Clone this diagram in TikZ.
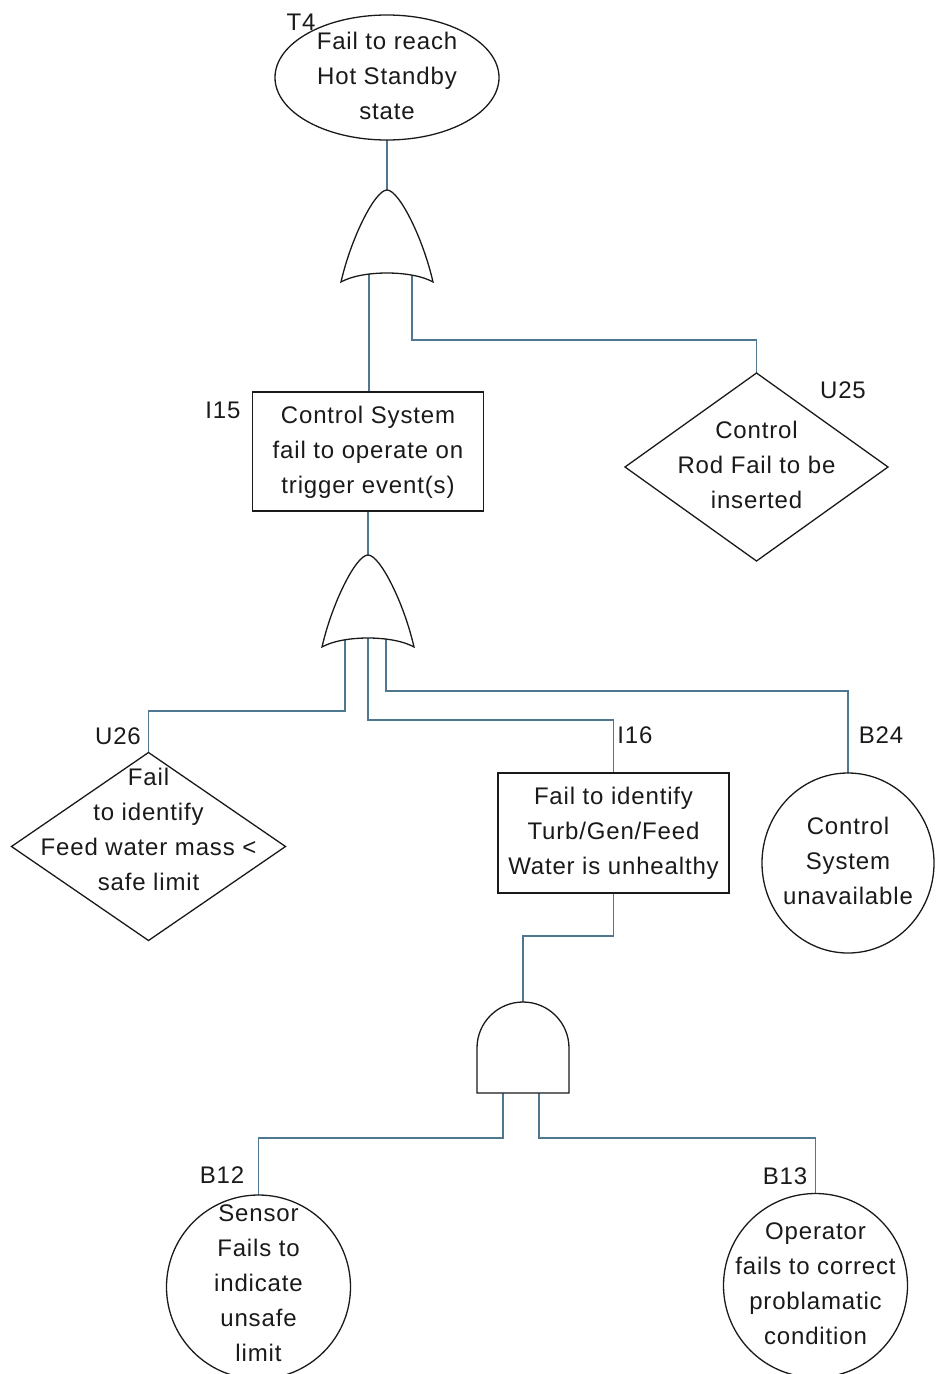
\documentclass[tikz,border=0pt]{standalone}
\usepackage{fontspec}
\setmainfont{Liberation Sans}[LetterSpace=3.5]
\usetikzlibrary{calc,backgrounds,shapes.geometric}
\newcommand\fs{\fontsize{24}{35}\selectfont}
\newcommand\ml[2][0]{\raisebox{\dimexpr #1pt-6pt\relax}[0pt][0pt]{\makebox[0pt]{\begin{tabular}{@{}c@{}}#2\end{tabular}}}}
\definecolor{wirec}{HTML}{4F7790}
\definecolor{ink}{HTML}{1A1A1A}
\tikzset{
  shp/.style={draw=ink, line width=1.3pt, fill=white, inner sep=0pt, outer sep=0pt, font=\fs, text=ink},
  evbox/.style={shp, rectangle, minimum width=231pt, minimum height=119pt},
  undev/.style={shp, diamond, aspect=1.4},
  basic/.style={shp, circle, minimum size=184pt},
  lbl/.style={font=\fs, text=ink, inner sep=0pt},
  wire/.style={draw=wirec, line width=1.3pt},
  gate/.style={draw=ink, line width=1.3pt, fill=white},
  orgate/.pic={
    \draw[gate] (0,0) .. controls (12,0) and (36,48) .. (46,92)
      .. controls (25,80) and (-25,80) .. (-46,92)
      .. controls (-36,48) and (-12,0) .. (0,0) -- cycle;
    \coordinate (-top) at (0,0);
  },
  andgate/.pic={
    \draw[gate] (-46,91) -- (-46,46) .. controls (-46,20.6) and (-25.4,0) .. (0,0)
      .. controls (25.4,0) and (46,20.6) .. (46,46) -- (46,91) -- cycle;
    \coordinate (-top) at (0,0);
  }
}
\begin{document}
\begin{tikzpicture}[x=1pt,y=-1pt]
\useasboundingbox (0,0) rectangle (935,1374);

% gates
\pic (g1) at (387,190) {orgate};
\pic (g2) at (368,555) {orgate};
\pic (a1) at (523,1002) {andgate};

% events
\node[shp, ellipse, minimum width=224pt, minimum height=125pt] (t4) at (387,77.5) {\ml{Fail to reach\\Hot Standby\\state}};
\node[evbox] (i15) at (368,451.5) {\ml{Control System\\fail to operate on\\trigger event(s)}};
\node[undev, minimum width=263pt, minimum height=188pt] (u25) at (756.5,467) {\ml{Control\\Rod Fail to be\\inserted}};
\node[undev, minimum width=274pt, minimum height=188pt] (u26) at (148.5,846.5) {\ml[15]{Fail\\to identify\\Feed water mass <\\safe limit}};
\node[evbox, minimum height=120pt] (i16) at (613.5,833) {\ml{Fail to identify\\Turb/Gen/Feed\\Water is unhealthy}};
\node[shp, ellipse, minimum width=172pt, minimum height=180pt] (b24) at (848,863) {\ml{Control\\System\\unavailable}};
\node[basic] (b12) at (258.5,1287) {\ml[2]{Sensor\\Fails to\\indicate\\unsafe\\limit}};
\node[basic] (b13) at (815.5,1285.5) {\ml{Operator\\fails to correct\\problamatic\\condition}};

% labels
\node[lbl] (lt4) at (301,22) {T4};
\node[lbl] (li15) at (223,410) {I15};
\node[lbl] (lu25) at (843,390) {U25};
\node[lbl] (lu26) at (118,736) {U26};
\node[lbl] (li16) at (635,735) {I16};
\node[lbl] (lb24) at (881,735) {B24};
\node[lbl] (lb12) at (222,1175) {B12};
\node[lbl] (lb13) at (785,1176) {B13};

% gate inputs
\coordinate (g1a) at ($(g1-top)+(-18,80)$);
\coordinate (g1b) at ($(g1-top)+(25,80)$);
\coordinate (g2a) at ($(g2-top)+(-23,80)$);
\coordinate (g2b) at ($(g2-top)+(0,80)$);
\coordinate (g2c) at ($(g2-top)+(18,80)$);
\coordinate (a1a) at ($(a1-top)+(-20,85)$);
\coordinate (a1b) at ($(a1-top)+(16,85)$);

\begin{scope}[on background layer]
\draw[wire] (t4.south) -- (g1-top);
\draw[wire] (g1a) -- (g1a |- i15.north);
\draw[wire] (g1b) |- (u25.north |- 0,340) -- (u25.north);
\draw[wire] (i15.south) -- (g2-top);
\draw[wire] (g2a) |- (u26.north |- 0,711) -- (u26.north);
\draw[wire] (g2b) |- (i16.north |- 0,720) -- (i16.north);
\draw[wire] (g2c) |- (b24.north |- 0,691) -- (b24.north);
\draw[wire] (i16.south) |- (a1-top |- 0,936) -- (a1-top);
\draw[wire] (a1a) |- (b12.north |- 0,1138) -- (b12.north);
\draw[wire] (a1b) |- (b13.north |- 0,1138) -- (b13.north);
\end{scope}
\end{tikzpicture}
\end{document}
